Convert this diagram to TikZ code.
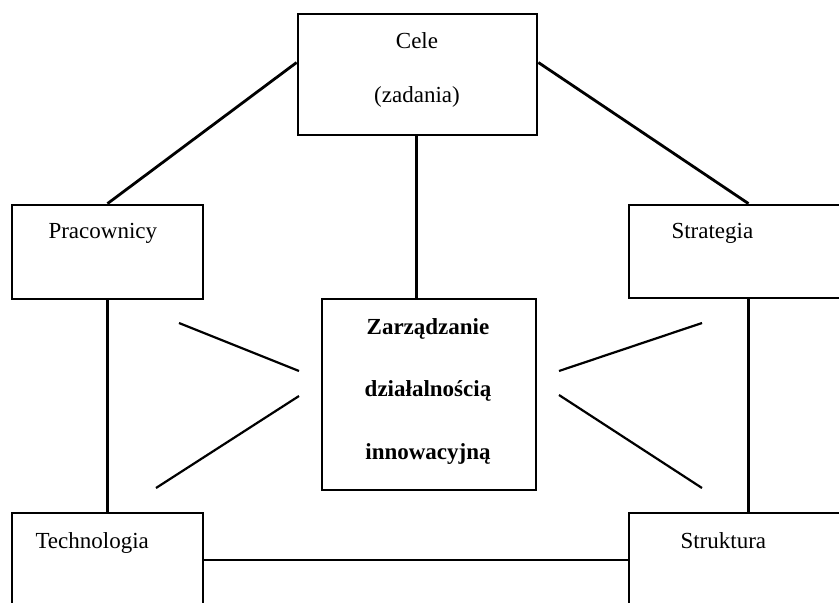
\documentclass[tikz,border=0pt]{standalone}
\usepackage{fontspec}
\setmainfont{Liberation Serif}
\begin{document}
\begin{tikzpicture}[x=1pt,y=-1pt,
    box/.style={draw, line width=2.8pt, inner sep=0pt},
    link/.style={line width=2.8pt},
    spoke/.style={line width=2.2pt},
    lbl/.style={font=\fontsize{23}{27}\selectfont},
    blbl/.style={font=\bfseries\fontsize{23}{27}\selectfont, anchor=base}]
  \useasboundingbox (0,0) rectangle (839,603);
  \clip (0,0) rectangle (839,603);
  % boxes
  \node[box, minimum width=239pt, minimum height=121pt] (cele) at (417.5,74.5) {};
  \node[box, minimum width=191pt, minimum height=94pt] (prac) at (107.5,252) {};
  \node[box, minimum width=239pt, minimum height=93pt] (strat) at (748.5,251.5) {};
  \node[box, minimum width=191pt, minimum height=94pt] (tech) at (107.5,560) {};
  \node[box, minimum width=239pt, minimum height=94pt] (strukt) at (748.5,560) {};
  \node[box, minimum width=214pt, minimum height=191pt] (zarz) at (429,394.5) {};
  % texts
  \node[lbl, anchor=base] (celeA) at (417,48) {Cele};
  \node[lbl, anchor=base] (celeB) at (417,102) {(zadania)};
  \node[lbl, anchor=base west] (pracT) at (45,238) {Pracownicy};
  \node[lbl, anchor=base west] (stratT) at (668,238) {Strategia};
  \node[lbl, anchor=base west] (techT) at (32,548) {Technologia};
  \node[lbl, anchor=base west] (struktT) at (677,548) {Struktura};
  \node[blbl] (zarzA) at (428,334) {Zarządzanie};
  \node[blbl] (zarzB) at (428,396) {działalnością};
  \node[blbl] (zarzC) at (428,459) {innowacyjną};
  % connectors
  \draw[link] ([yshift=12pt]cele.west) -- (prac.north);
  \draw[link] ([yshift=12pt]cele.east) -- (strat.north);
  \draw[link] ([xshift=-1pt]cele.south) -- ([xshift=-1pt]cele.south |- zarz.north);
  \draw[link] (prac.south) -- (tech.north);
  \draw[link] (strat.south) -- (strukt.north);
  \draw[link] (tech.east) -- (strukt.west);
  % spokes round the centre
  \coordinate (l1) at (179,323);
  \coordinate (l2) at (299,371);
  \coordinate (l3) at (299,396);
  \coordinate (l4) at (156,488);
  \coordinate (r1) at (559,371);
  \coordinate (r2) at (702,323);
  \coordinate (r3) at (559,395);
  \coordinate (r4) at (702,488);
  \draw[spoke] (l1) -- (l2);
  \draw[spoke] (l3) -- (l4);
  \draw[spoke] (r1) -- (r2);
  \draw[spoke] (r3) -- (r4);
\end{tikzpicture}
\end{document}
